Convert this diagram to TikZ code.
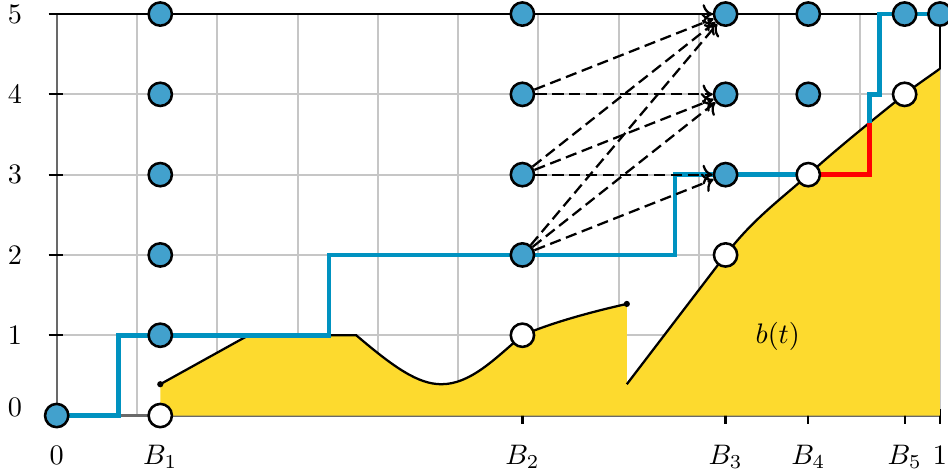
\documentclass[tikz,border=0pt]{standalone}
\usetikzlibrary{arrows.meta}
\definecolor{nodeblue}{RGB}{66,161,205}
\definecolor{pathblue}{RGB}{0,146,192}
\definecolor{fillyellow}{RGB}{253,218,46}
\definecolor{gridgray}{RGB}{198,198,198}
\definecolor{axisgray}{RGB}{105,105,105}
\begin{document}
\begin{tikzpicture}[
  bnode/.style={circle, draw=black, line width=0.9pt, fill=nodeblue, minimum size=0.29cm, inner sep=0pt},
  wnode/.style={bnode, fill=white},
  stair/.style={pathblue, line width=1.6pt},
  redstair/.style={red, line width=1.6pt},
  curveline/.style={black, line width=0.8pt},
  gridline/.style={gridgray, line width=0.7pt},
  axisline/.style={axisgray, line width=0.8pt},
  frameline/.style={black, line width=0.8pt},
  tickmark/.style={black, line width=0.8pt},
  darrow/.style={-{To[length=3.6pt,width=7pt]}, line width=0.8pt, dash pattern=on 4pt off 2pt},
  lab/.style={inner sep=0pt, anchor=base},
  ylab/.style={inner sep=0pt}
]
\useasboundingbox (-0.706,-0.728) rectangle (11.10,5.175);
\def\Ba{1.29}
\def\Bb{5.80}
\def\Bc{8.33}
\def\Bd{9.36}
\def\Be{10.56}
% grid and axes
\draw[gridline] (0,0) grid (11,5);
\draw[axisline] (0,5) -- (0,0) -- (11,0);
\draw[frameline] (0,5) -- (11,5);
\draw[frameline] (11,4.32) -- (11,5);
% ticks
\foreach \y in {1,...,5} \draw[tickmark] (-0.1,\y) -- (0.08,\y);
\foreach \x in {\Bb,\Bc,\Bd,\Be,11} \draw[tickmark] (\x,-0.1) -- (\x,0.08);
% yellow areas
\fill[fillyellow] (\Ba,0) -- (\Ba,0.39) -- (2.39,1) -- (3.73,1)
  .. controls (4.2,0.6) and (4.5,0.39) .. (4.79,0.39)
  .. controls (5.15,0.39) and (5.45,0.7) .. (5.8,1)
  .. controls (6.2,1.17) and (6.7,1.3) .. (7.1,1.39) -- (7.1,0) -- cycle;
\fill[fillyellow] (7.1,0) -- (7.1,0.39) -- (8.33,2)
  .. controls (8.673,2.45) and (9.017,2.692) .. (9.36,3)
  .. controls (9.76,3.359) and (10.16,3.678) .. (10.56,4)
  .. controls (10.707,4.118) and (10.853,4.213) .. (11,4.32) -- (11,0) -- cycle;
\draw[curveline] (\Ba,0.39) -- (2.39,1) -- (3.73,1)
  .. controls (4.2,0.6) and (4.5,0.39) .. (4.79,0.39)
  .. controls (5.15,0.39) and (5.45,0.7) .. (5.8,1)
  .. controls (6.2,1.17) and (6.7,1.3) .. (7.1,1.39);
\draw[curveline] (7.1,0.39) -- (8.33,2)
  .. controls (8.673,2.45) and (9.017,2.692) .. (9.36,3)
  .. controls (9.76,3.359) and (10.16,3.678) .. (10.56,4)
  .. controls (10.707,4.118) and (10.853,4.213) .. (11,4.32);
\fill (\Ba,0.39) circle (1.1pt);
\fill (7.1,1.39) circle (1.1pt);
\node at (8.98,0.98) {$b(t)$};
% staircase
\draw[stair] (0,0) -- (0.77,0) -- (0.77,1) -- (3.39,1) -- (3.39,2) -- (7.7,2) -- (7.7,3) -- (\Bd,3);
\draw[redstair] (\Bd,3) -- (10.12,3) -- (10.12,3.645);
\draw[stair] (10.12,3.645) -- (10.12,4) -- (10.25,4) -- (10.25,5) -- (11,5);
% nodes
\node[bnode] (o0) at (0,0) {};
\node[wnode] (a0) at (\Ba,0) {};
\foreach \y in {1,...,5} \node[bnode] (a\y) at (\Ba,\y) {};
\node[wnode] (b1) at (\Bb,1) {};
\foreach \y in {2,...,5} \node[bnode] (b\y) at (\Bb,\y) {};
\node[wnode] (c2) at (\Bc,2) {};
\foreach \y in {3,...,5} \node[bnode] (c\y) at (\Bc,\y) {};
\node[wnode] (d3) at (\Bd,3) {};
\foreach \y in {4,5} \node[bnode] (d\y) at (\Bd,\y) {};
\node[wnode] (e4) at (\Be,4) {};
\node[bnode] (e5) at (\Be,5) {};
\node[bnode] (f5) at (11,5) {};
% arrows
\foreach \s/\t in {5/5, 4/5, 4/4, 3/5, 3/4, 3/3, 2/5, 2/4, 2/3}
  \draw[darrow] (b\s) -- (c\t);
% labels
\node[ylab] at (-0.52,0.1) {$0$};
\foreach \y in {1,...,5} \node[ylab] at (-0.52,\y) {$\y$};
\node[lab] at (0,-0.61) {$0$};
\node[lab] at (\Ba,-0.61) {$B_1$};
\node[lab] at (\Bb,-0.61) {$B_2$};
\node[lab] at (\Bc,-0.61) {$B_3$};
\node[lab] at (\Bd,-0.61) {$B_4$};
\node[lab] at (\Be,-0.61) {$B_5$};
\node[lab] at (11,-0.61) {$1$};
\end{tikzpicture}
\end{document}
